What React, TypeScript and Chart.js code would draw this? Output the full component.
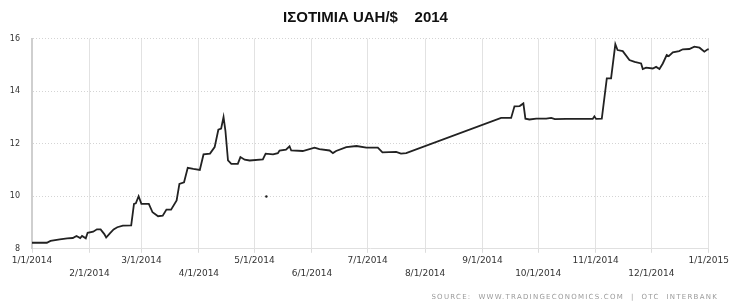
import React, { useEffect, useRef } from "react";
import { Chart, registerables } from "chart.js";

Chart.register(...registerables);

const TITLE = "ΙΣΟΤΙΜΙΑ UAH/$    2014";
const SOURCE = "SOURCE:  WWW.TRADINGECONOMICS.COM  |  OTC  INTERBANK";

// day of year (0 = 1/1/2014)
const DAYS = [
  0, 8, 10, 15, 19, 22, 24, 26, 27, 29, 30, 33, 35, 37, 39, 40, 42, 44, 46, 49,
  53.5, 55, 56, 57.5, 59, 63, 65, 68, 70.5, 72.5, 75, 78, 79.5, 82, 84, 87, 90.5,
  92.5, 96, 98.5, 100.5, 102, 103.3, 104.3, 105.7, 107.5, 111, 112.4, 114.7, 117.4,
  124.5, 126, 130, 132.6, 133.5, 137, 138.9, 139.8, 146, 152.4, 155, 160.5, 162.3,
  164, 169.5, 175, 180.3, 186.5, 189, 196.4, 199, 201.8,
  253, 258.4, 260.2, 263, 265, 266.1, 268.3, 272, 277.3, 280, 282, 288, 302.4,
  303.3, 304.2, 307.3, 310, 312.3, 314.6, 315.8, 318.6, 322.2, 325, 328.5, 329.4,
  331.2, 334.8, 336.6, 338.4, 340.2, 342.3, 343.4, 345.6, 349, 351, 354.5, 357.2,
  360, 362.6, 364.4, 365.3,
];
const RATES = [
  8.23, 8.23, 8.3, 8.36, 8.4, 8.41, 8.49, 8.41, 8.49, 8.4, 8.61, 8.65, 8.74, 8.74,
  8.56, 8.43, 8.59, 8.74, 8.82, 8.88,
  8.89, 9.71, 9.73, 10.0, 9.71, 9.71, 9.39, 9.24, 9.26, 9.49, 9.49, 9.84, 10.47,
  10.53, 11.08, 11.04, 11.0,
  11.59, 11.62, 11.87, 12.53, 12.57, 13.01, 12.5, 11.36, 11.23, 11.23, 11.49, 11.39,
  11.36,
  11.4, 11.62, 11.59, 11.64, 11.74, 11.77, 11.9, 11.74, 11.72, 11.85, 11.79, 11.74,
  11.64,
  11.72, 11.87, 11.91, 11.85, 11.85, 11.67, 11.69, 11.62, 11.64,
  12.98, 12.98, 13.42, 13.43, 13.53, 12.95, 12.92, 12.95, 12.95, 12.98, 12.93,
  12.94, 12.94,
  13.04, 12.94, 12.95, 14.48, 14.48, 15.78, 15.56, 15.52, 15.18, 15.11, 15.05,
  14.84,
  14.89, 14.86, 14.92, 14.84, 15.05, 15.37, 15.33, 15.47, 15.52, 15.59, 15.6,
  15.69,
  15.65, 15.5, 15.59, 15.59,
];

const STRAY_DAYS = [126.4];
const STRAY_RATES = [9.99];

const TICK_DAYS = [0, 31, 59, 90, 120, 151, 181, 212, 243, 273, 304, 334, 365];
const TICK_LABELS = [
  "1/1/2014", "2/1/2014", "3/1/2014", "4/1/2014", "5/1/2014", "6/1/2014",
  "7/1/2014", "8/1/2014", "9/1/2014", "10/1/2014", "11/1/2014", "12/1/2014",
  "1/1/2015",
];

const sourcePlugin = {
  id: "sourceText",
  afterDraw(chart: any) {
    const ctx = chart.ctx;
    ctx.save();
    ctx.font = '7px "DejaVu Sans"';
    try {
      (ctx as any).letterSpacing = "1.25px";
    } catch (e) {}
    ctx.fillStyle = "#9a9a9a";
    ctx.textAlign = "right";
    ctx.textBaseline = "middle";
    ctx.fillText(SOURCE, chart.width - 13, 297);
    ctx.restore();
  },
};

export default function App() {
  const ref = useRef<HTMLCanvasElement>(null);
  useEffect(() => {
    document.body.style.margin = "0";
    const canvas = ref.current;
    if (!canvas) return;
    const chart = new Chart(canvas, {
      type: "line",
      data: {
        datasets: [
          {
            data: DAYS.map((d, i) => ({ x: d, y: RATES[i] })),
            borderColor: "#222",
            borderWidth: 1.8,
            pointRadius: 0,
            tension: 0,
            fill: false,
          },
          {
            data: STRAY_DAYS.map((d, i) => ({ x: d, y: STRAY_RATES[i] })),
            showLine: false,
            pointRadius: 1.2,
            pointBorderWidth: 0,
            pointBackgroundColor: "#222",
            borderColor: "#222",
          },
        ],
      },
      options: {
        animation: false,
        responsive: false,
        devicePixelRatio: 1,
        layout: { padding: { left: 0, right: 0, top: 0, bottom: 22 } },
        plugins: {
          legend: { display: false },
          tooltip: { enabled: false },
          title: {
            display: true,
            text: TITLE,
            color: "#111",
            font: { family: '"Liberation Sans", Arial, sans-serif', size: 15, weight: "bold" },
            padding: { top: 9, bottom: 11.5 },
          },
        },
        scales: {
          x: {
            type: "linear",
            min: 0,
            max: 365,
            afterBuildTicks: (scale: any) => {
              scale.ticks = TICK_DAYS.map((v) => ({ value: v }));
            },
            ticks: {
              autoSkip: false,
              maxRotation: 0,
              minRotation: 0,
              padding: 2,
              color: "#333",
              font: { family: '"DejaVu Sans", sans-serif', size: 9, lineHeight: 1.4 },
              callback: (value: any, index: number) => {
                const i = TICK_DAYS.indexOf(Number(value));
                const lbl = TICK_LABELS[i >= 0 ? i : index];
                return i % 2 === 0 ? [lbl, ""] : ["", lbl];
              },
            },
            grid: {
              color: "#e2e2e2",
              lineWidth: 1,
              drawTicks: true,
              tickLength: 4,
              tickColor: "#dcdcdc",
            },
            border: { display: true, color: "#e0e0e0", width: 1 },
          },
          y: {
            min: 8,
            max: 16,
            afterFit: (scale: any) => {
              scale.width = 32;
            },
            ticks: {
              stepSize: 2,
              padding: 12,
              color: "#333",
              font: { family: '"DejaVu Sans", sans-serif', size: 8 },
            },
            grid: { color: "#d4d4d4", lineWidth: 1, drawTicks: false },
            border: { display: true, color: "#cfcfcf", width: 2, dash: [1, 2] },
          },
        },
      },
      plugins: [sourcePlugin],
    } as any);
    return () => chart.destroy();
  }, []);
  return (
    <div style={{ width: 731, height: 304, background: "#fff" }}>
      <canvas ref={ref} width={731} height={304} style={{ display: "block" }} />
    </div>
  );
}
